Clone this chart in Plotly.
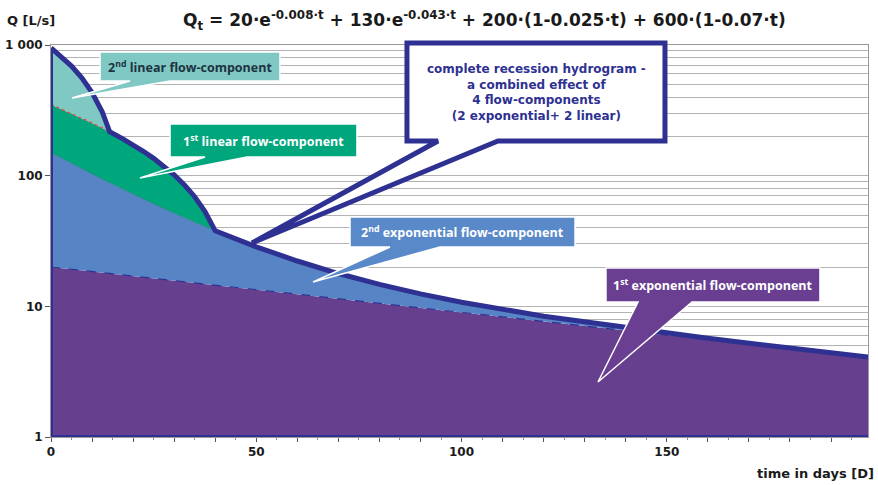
import numpy as np
import plotly.graph_objects as go

# Recession hydrograph: Qt = 20·e^(-0.008t) + 130·e^(-0.043t) + 200·(1-0.025t) + 600·(1-0.07t)
# Discharge of each flow-component [L/s] at the sampled days
days = [0, 2.5, 5, 7.5, 10, 12.5, 14.29, 17.5, 20, 22.5, 25, 27.5, 30, 32.5, 35, 37.5,
        40, 50, 60, 70, 80, 90, 100, 120, 140, 160, 180, 199]
exp1 = [20.0, 19.60, 19.22, 18.84, 18.46, 18.10, 17.84, 17.39, 17.04, 16.71, 16.37, 16.05,
        15.73, 15.42, 15.12, 14.82, 14.52, 13.41, 12.38, 11.42, 10.55, 9.74, 8.99, 7.66,
        6.53, 5.56, 4.74, 4.07]
exp2 = [130.0, 116.75, 104.84, 94.16, 84.57, 75.95, 70.33, 61.26, 55.02, 49.40, 44.37, 39.85,
        35.79, 32.14, 28.86, 25.92, 23.28, 15.14, 9.85, 6.41, 4.17, 2.71, 1.76, 0.75,
        0.32, 0.13, 0.06, 0.03]
lin1 = [200.0, 187.5, 175.0, 162.5, 150.0, 137.5, 128.55, 112.5, 100.0, 87.5, 75.0, 62.5,
        50.0, 37.5, 25.0, 12.5, 0, 0, 0, 0, 0, 0, 0, 0, 0, 0, 0, 0]
lin2 = [600.0, 495.0, 390.0, 285.0, 180.0, 75.0, 0, 0, 0, 0, 0, 0, 0, 0, 0, 0,
        0, 0, 0, 0, 0, 0, 0, 0, 0, 0, 0, 0]

y_ticks = [1, 10, 100, 1000]
y_tick_text = ["1", "10", "100", "1 000"]
x_ticks = list(range(0, 200, 10))
x_tick_text = [str(v) if v % 50 == 0 else "" for v in x_ticks]

title_text = ("Q<sub>t</sub> = 20·e<sup>-0.008·t</sup> + 130·e<sup>-0.043·t</sup>"
              " + 200·(1-0.025·t) + 600·(1-0.07·t)")

C_PURPLE = "#673f8f"
C_BLUE = "#5684c4"
C_GREEN = "#00a67c"
C_TEAL = "#7fc8c4"
C_DARK = "#2e3192"

W, H = 878, 485
ML, MR, MT, MB = 51, 10, 45, 48
PW, PH = W - ML - MR, H - MT - MB


def paper(x, y):
    """pixel position in the page -> paper coordinates"""
    return (x - ML) / PW, (H - MB - y) / PH


def path(points):
    pts = [paper(x, y) for x, y in points]
    return "M " + " L ".join(f"{a:.4f},{b:.4f}" for a, b in pts) + " Z"


t = np.array(days, dtype=float)
cum1 = np.array(exp1)
cum2 = cum1 + np.array(exp2)
cum3 = cum2 + np.array(lin1)
cum4 = cum3 + np.array(lin2)
i40 = days.index(40)
i14 = days.index(14.29)

fig = go.Figure()


def band(x_up, y_up, x_lo, y_lo, color):
    fig.add_trace(go.Scatter(
        x=list(x_up) + list(x_lo)[::-1], y=list(y_up) + list(y_lo)[::-1],
        fill="toself", fillcolor=color, mode="lines", line=dict(width=0),
        hoverinfo="skip", showlegend=False))


# stacked flow-components
band(t, cum1, [t[0], t[-1]], [1, 1], C_PURPLE)
band(t, cum2, t, cum1, C_BLUE)
band(t[:i40 + 1], cum3[:i40 + 1], t[:i40 + 1], cum2[:i40 + 1], C_GREEN)
band(t[:i14 + 1], cum4[:i14 + 1], t[:i14 + 1], cum3[:i14 + 1], C_TEAL)

# component borders
fig.add_trace(go.Scatter(x=t, y=cum1, mode="lines",
                         line=dict(color=C_DARK, width=1.2, dash="dash"),
                         hoverinfo="skip", showlegend=False))
fig.add_trace(go.Scatter(x=t[:i40 + 1], y=cum2[:i40 + 1], mode="lines",
                         line=dict(color="#2f7f86", width=0.7),
                         hoverinfo="skip", showlegend=False))
fig.add_trace(go.Scatter(x=t[:i14 + 1], y=cum3[:i14 + 1], mode="lines",
                         line=dict(color="#e0524a", width=1.5, dash="dot"),
                         hoverinfo="skip", showlegend=False))

# outline of the complete hydrogram
fig.add_trace(go.Scatter(x=[t[-1], t[0], t[0]], y=[1, 1, cum4[0]], mode="lines",
                         line=dict(color=C_DARK, width=4),
                         hoverinfo="skip", showlegend=False))
fig.add_trace(go.Scatter(x=t, y=cum4, mode="lines",
                         line=dict(color=C_DARK, width=5),
                         hoverinfo="skip", showlegend=False))

# callouts
callouts = [
    ([(100, 52), (280, 52), (280, 81), (170, 81), (72, 98), (130, 81), (100, 81)],
     C_TEAL, "white", 1.5),
    ([(170, 124), (357, 124), (357, 157), (247, 157), (140, 178), (205, 157), (170, 157)],
     C_GREEN, "white", 1.5),
    ([(350, 217), (575, 217), (575, 247), (440, 247), (313, 282), (390, 247), (350, 247)],
     "#5a89c9", "white", 1.5),
    ([(606, 268), (820, 268), (820, 302), (692, 302), (598, 382), (638, 302), (606, 302)],
     "#6a3f92", "white", 1.5),
    ([(407, 43), (665, 43), (665, 141), (498, 141), (252, 243), (438, 141), (407, 141)],
     "white", C_DARK, 5),
]
for pts, fill, line, lw in callouts:
    fig.add_shape(type="path", path=path(pts), xref="paper", yref="paper",
                  fillcolor=fill, line=dict(color=line, width=lw), layer="above")

label_font = dict(family="Open Sans", size=12.5, weight="bold")
labels = [
    ((190, 67), "2<sup>nd</sup> linear flow-component", "#1d3340"),
    ((263, 141), "1<sup>st</sup> linear flow-component", "white"),
    ((462, 232), "2<sup>nd</sup> exponential flow-component", "white"),
    ((713, 285), "1<sup>st</sup> exponential flow-component", "white"),
]
for (x, y), text, color in labels:
    px_, py_ = paper(x, y)
    fig.add_annotation(x=px_, y=py_, xref="paper", yref="paper", text=text,
                       showarrow=False, xanchor="center", yanchor="middle",
                       font=dict(color=color, **label_font))

cx, cy = paper(536, 92)
fig.add_annotation(x=cx, y=cy, xref="paper", yref="paper",
                   text=("complete recession hydrogram -<br>a combined effect of<br>"
                         "4 flow-components<br>(2 exponential+ 2 linear)"),
                   showarrow=False, xanchor="center", yanchor="middle", align="center",
                   font=dict(family="DejaVu Sans", size=12, weight="bold", color=C_DARK))

# title and axis captions
tx, ty = paper(484, 20)
fig.add_annotation(x=tx, y=ty, xref="paper", yref="paper", text=title_text,
                   showarrow=False, xanchor="center", yanchor="middle",
                   font=dict(family="DejaVu Sans", size=17, weight="bold", color="#1a1a1a"))
qx, qy = paper(5, 20)
fig.add_annotation(x=qx, y=qy, xref="paper", yref="paper", text="Q [L/s]",
                   showarrow=False, xanchor="left", yanchor="middle",
                   font=dict(family="DejaVu Sans", size=13, weight="bold", color="#1a1a1a"))
ax_, ay_ = paper(876, 473)
fig.add_annotation(x=ax_, y=ay_, xref="paper", yref="paper", text="time in days [D]",
                   showarrow=False, xanchor="right", yanchor="middle",
                   font=dict(family="DejaVu Sans", size=13, weight="bold", color="#1a1a1a"))

minor_vals = [m * 10 ** k for k in range(3) for m in range(2, 10)]
tick_font = dict(family="DejaVu Sans", size=12, weight="bold", color="#1a1a1a")

fig.update_layout(
    width=W, height=H,
    margin=dict(l=ML, r=MR, t=MT, b=MB, pad=0, autoexpand=False),
    paper_bgcolor="white", plot_bgcolor="white",
    showlegend=False,
    xaxis=dict(range=[0, 199], tickmode="array", tickvals=x_ticks, ticktext=x_tick_text,
               ticks="outside", ticklen=4, tickcolor="#555", showgrid=False, zeroline=False,
               showline=True, linecolor="#999", mirror=True, tickfont=tick_font,
               automargin=False,
               minor=dict(dtick=5, ticks="outside", ticklen=2, tickcolor="#888")),
    yaxis=dict(type="log", range=[0, 3], tickmode="array", tickvals=y_ticks,
               ticktext=y_tick_text, ticks="outside", ticklen=5, tickcolor="#555",
               showgrid=True, gridcolor="#b3b3b3", gridwidth=1, zeroline=False,
               showline=True, linecolor="#999", mirror=True, tickfont=tick_font,
               automargin=False,
               minor=dict(tickmode="array", tickvals=minor_vals, showgrid=True,
                          gridcolor="#b3b3b3", gridwidth=1, ticks="")),
)

fig.write_html("out.html")
